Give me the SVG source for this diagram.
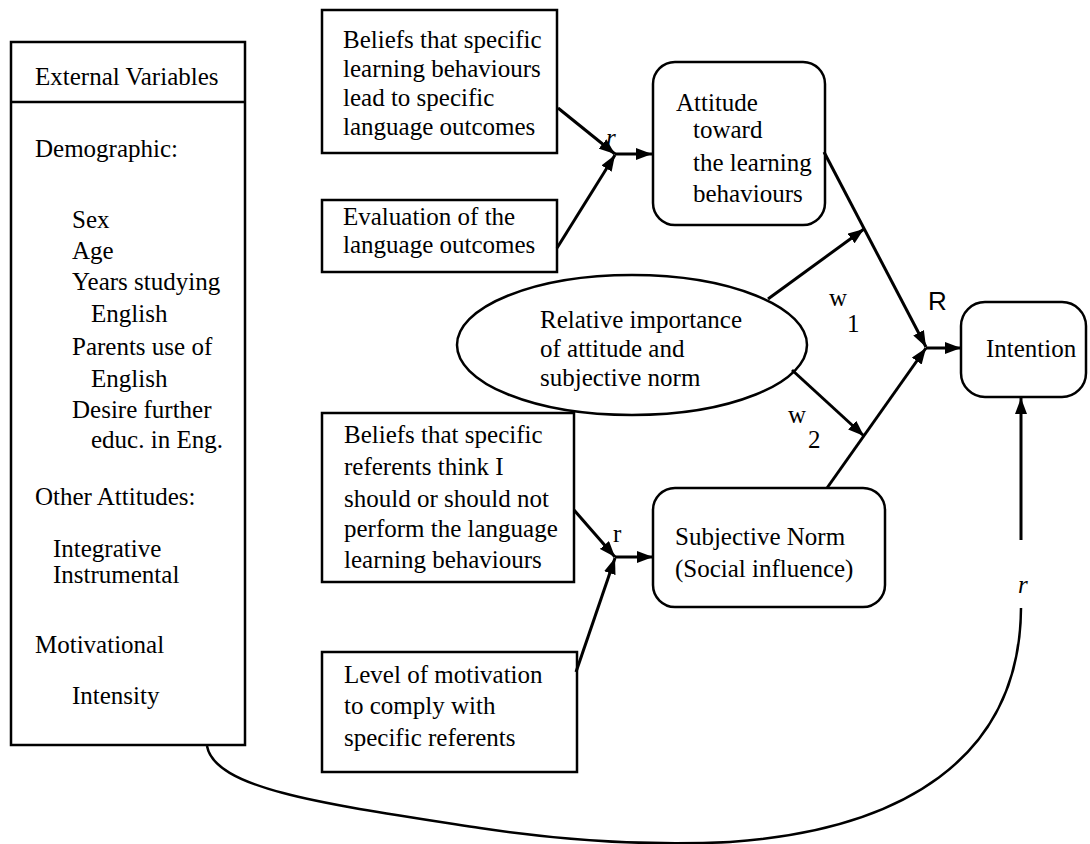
<svg xmlns="http://www.w3.org/2000/svg" width="1090" height="844" viewBox="0 0 1090 844">
<style>
text{font-family:"Liberation Serif","Times New Roman",serif;font-size:25px;fill:#000}
.bx{fill:#fff;stroke:#000;stroke-width:2.5}
.ln{fill:none;stroke:#000;stroke-width:3}
.cv{fill:none;stroke:#000;stroke-width:2.5}
.it{font-style:italic}
.sans{font-family:"Liberation Sans",Arial,sans-serif;font-size:26px}
</style>
<defs>
<marker id="ah" viewBox="0 0 16 12" refX="16" refY="6" markerWidth="16" markerHeight="12" markerUnits="userSpaceOnUse" orient="auto">
<path d="M0,0 L16,6 L0,12 z" fill="#000"/>
</marker>
</defs>
<rect width="1090" height="844" fill="#fff"/>

<g id="external">
<rect class="bx" x="11" y="42" width="234" height="703"/>
<line x1="11" y1="102" x2="245" y2="102" stroke="#000" stroke-width="2.5"/>
<text x="35" y="85">External Variables</text>
<text x="35" y="157">Demographic:</text>
<text x="72" y="228">Sex</text>
<text x="72" y="259">Age</text>
<text x="72" y="290">Years studying</text>
<text x="91" y="322">English</text>
<text x="72" y="355">Parents use of</text>
<text x="91" y="387">English</text>
<text x="72" y="418">Desire further</text>
<text x="91" y="448">educ. in Eng.</text>
<text x="35" y="505">Other Attitudes:</text>
<text x="53" y="557">Integrative</text>
<text x="53" y="583">Instrumental</text>
<text x="35" y="653">Motivational</text>
<text x="72" y="704">Intensity</text>
</g>

<g id="beliefs-outcomes">
<rect class="bx" x="322" y="10" width="235" height="143"/>
<text x="343" y="48">Beliefs that specific</text>
<text x="343" y="77">learning behaviours</text>
<text x="343" y="106">lead to specific</text>
<text x="343" y="135">language outcomes</text>
</g>

<g id="evaluation">
<rect class="bx" x="322" y="200" width="235" height="72"/>
<text x="343" y="225">Evaluation of the</text>
<text x="343" y="253">language outcomes</text>
</g>

<g id="attitude">
<rect class="bx" x="653" y="62" width="172" height="163" rx="22"/>
<text x="676" y="111">Attitude</text>
<text x="693" y="138">toward</text>
<text x="693" y="171">the learning</text>
<text x="693" y="202">behaviours</text>
</g>

<g id="relative-importance">
<ellipse class="bx" cx="632" cy="345" rx="175" ry="70"/>
<text x="540" y="328">Relative importance</text>
<text x="540" y="357">of attitude and</text>
<text x="540" y="386">subjective norm</text>
</g>

<g id="beliefs-referents">
<rect class="bx" x="322" y="413" width="252" height="169"/>
<text x="344" y="443">Beliefs that specific</text>
<text x="344" y="475">referents think I</text>
<text x="344" y="507">should or should not</text>
<text x="344" y="537">perform the language</text>
<text x="344" y="568">learning behaviours</text>
</g>

<g id="motivation">
<rect class="bx" x="322" y="652" width="255" height="120"/>
<text x="344" y="683">Level of motivation</text>
<text x="344" y="714">to comply with</text>
<text x="344" y="746">specific referents</text>
</g>

<g id="subjective-norm">
<rect class="bx" x="653" y="488" width="232" height="119" rx="22"/>
<text x="675" y="545">Subjective Norm</text>
<text x="675" y="577">(Social influence)</text>
</g>

<g id="intention">
<rect class="bx" x="961" y="302" width="125" height="95" rx="24"/>
<text x="986" y="357">Intention</text>
</g>

<g id="connectors">
<line class="ln" x1="558" y1="108" x2="615" y2="154" marker-end="url(#ah)"/>
<line class="ln" x1="557" y1="248" x2="615" y2="155" marker-end="url(#ah)"/>
<line class="ln" x1="615" y1="154" x2="652" y2="154" marker-end="url(#ah)"/>
<line class="ln" x1="574" y1="510" x2="615" y2="557" marker-end="url(#ah)"/>
<line class="ln" x1="576" y1="672" x2="615" y2="558" marker-end="url(#ah)"/>
<line class="ln" x1="615" y1="557" x2="653" y2="557" marker-end="url(#ah)"/>
<line class="ln" x1="824" y1="152" x2="926" y2="347" marker-end="url(#ah)"/>
<line class="ln" x1="768" y1="299" x2="864" y2="229" marker-end="url(#ah)"/>
<line class="ln" x1="792" y1="370" x2="864" y2="436" marker-end="url(#ah)"/>
<line class="ln" x1="827" y1="488" x2="926" y2="348" marker-end="url(#ah)"/>
<line class="ln" x1="926" y1="348" x2="961" y2="348" marker-end="url(#ah)"/>
<path class="cv" d="M207,746 C215,790 330,805 480,828 C560,840 650,846 730,842 C900,830 1020,760 1021,608"/>
<line class="ln" x1="1021" y1="540" x2="1021" y2="398" marker-end="url(#ah)"/>
</g>

<g id="labels">
<text class="it" x="606" y="146">r</text>
<text x="613" y="542">r</text>
<text class="it" x="1018" y="593">r</text>
<text class="sans" x="928" y="310">R</text>
<text x="829" y="306">w</text>
<text x="847" y="332">1</text>
<text x="788" y="423">w</text>
<text x="808" y="448">2</text>
</g>
</svg>
